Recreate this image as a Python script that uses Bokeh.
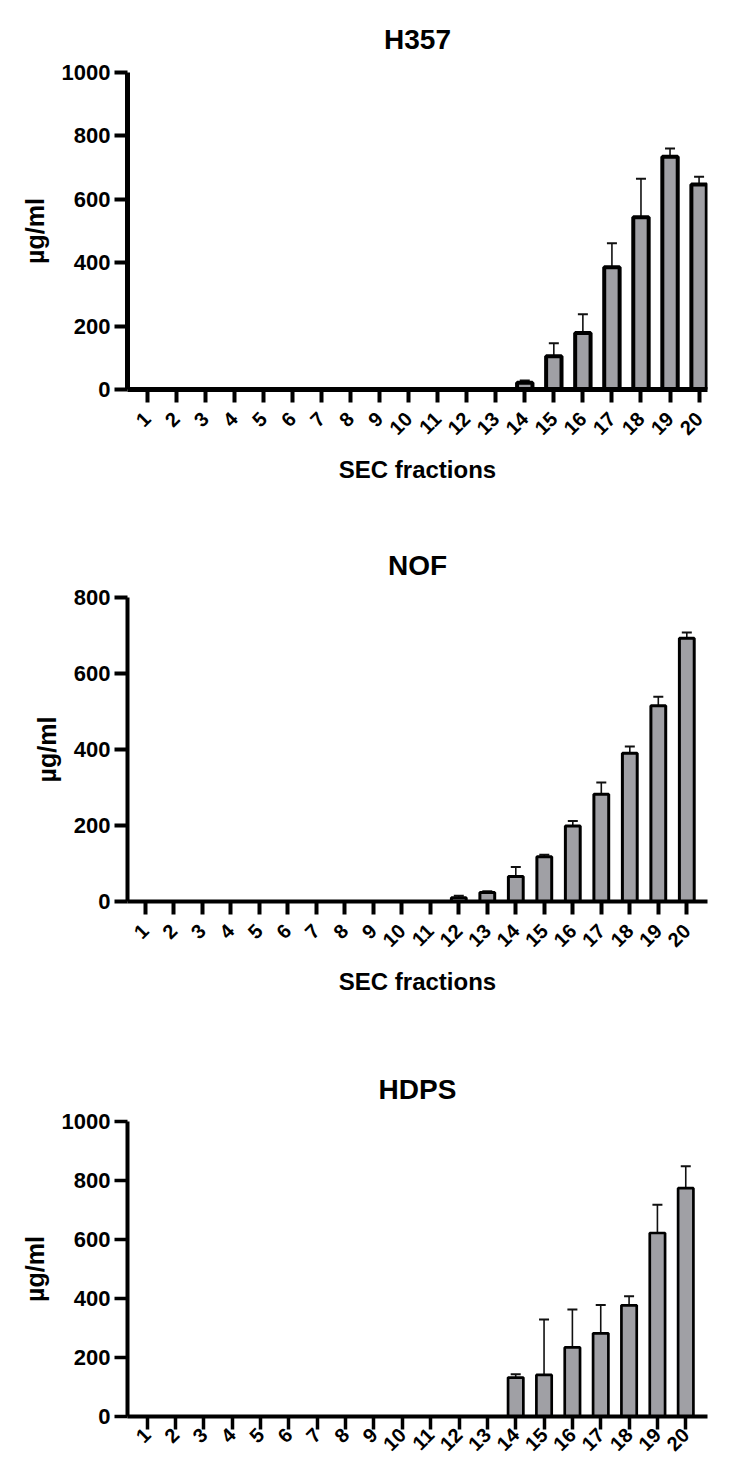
import math
from bokeh.plotting import figure
from bokeh.models import ColumnDataSource, FixedTicker, Range1d
from bokeh.layouts import column
from bokeh.embed import file_html
from bokeh.resources import INLINE

# ---------------- data ----------------
FRACTIONS = [1, 2, 3, 4, 5, 6, 7, 8, 9, 10, 11, 12, 13, 14, 15, 16, 17, 18, 19, 20]
TICK_LABELS = ["1", "2", "3", "4", "5", "6", "7", "8", "9", "10",
               "11", "12", "13", "14", "15", "16", "17", "18", "19", "20"]

H357_MEAN = [0, 0, 0, 0, 0, 0, 0, 0, 0, 0, 0, 0, 0, 21, 105, 178, 386, 543, 734, 647]
H357_ERR = [0, 0, 0, 0, 0, 0, 0, 0, 0, 0, 0, 0, 0, 7, 41, 59, 75, 122, 26, 24]

NOF_MEAN = [0, 0, 0, 0, 0, 0, 0, 0, 0, 0, 0, 10, 24, 66, 118, 199, 282, 390, 515, 693]
NOF_ERR = [0, 0, 0, 0, 0, 0, 0, 0, 0, 0, 0, 5, 3, 25, 5, 13, 31, 18, 24, 15]

HDPS_MEAN = [0, 0, 0, 0, 0, 0, 0, 0, 0, 0, 0, 0, 0, 132, 141, 234, 282, 377, 622, 774]
HDPS_ERR = [0, 0, 0, 0, 0, 0, 0, 0, 0, 0, 0, 0, 0, 11, 188, 129, 96, 31, 96, 74]

H357_YTICKS = [0, 200, 400, 600, 800, 1000]
NOF_YTICKS = [0, 200, 400, 600, 800]
HDPS_YTICKS = [0, 200, 400, 600, 800, 1000]

Y_LABEL = "µg/ml"
X_LABEL = "SEC fractions"

# ---------------- style ----------------
FONT = "Liberation Sans"
FILL = "#a0a0a5"
W = 732


def panel(name, mean, err, yticks, cfg, xlabel):
    p = figure(width=W, height=cfg["h"],
               x_range=Range1d(cfg["x0"], cfg["x1"]),
               y_range=Range1d(0, yticks[-1]),
               output_backend="svg", toolbar_location=None,
               min_border_left=cfg["bl"], min_border_right=cfg["br"],
               min_border_top=cfg["bt"], min_border_bottom=cfg["bb"])
    p.title.text = name
    p.title.align = "center"
    p.title.text_font = FONT
    p.title.text_font_size = "28px"
    p.title.text_font_style = "bold"
    p.title.text_color = "black"
    p.title.standoff = cfg["ts"]
    p.outline_line_color = None
    p.grid.visible = False
    p.background_fill_color = "white"
    p.border_fill_color = "white"

    xs = [x for x, e in zip(FRACTIONS, err) if e > 0]
    lo = [m for m, e in zip(mean, err) if e > 0]
    hi = [m + e for m, e in zip(mean, err) if e > 0]
    p.segment(x0=xs, y0=lo, x1=xs, y1=hi, line_color="#111111", line_width=1.6)
    p.scatter(x=xs, y=hi, marker="dash", size=10, line_width=2, line_color="#111111")

    src = ColumnDataSource(dict(x=FRACTIONS, top=mean))
    p.vbar(x="x", top="top", bottom=0, width=cfg["bw"], fill_color=FILL,
           line_color="black", line_width=cfg["lw"], source=src)

    xa = p.xaxis[0]
    xa.ticker = FixedTicker(ticks=FRACTIONS)
    xa.major_label_overrides = {x: t for x, t in zip(FRACTIONS, TICK_LABELS)}
    xa.major_label_orientation = math.pi / 4
    xa.major_label_text_font = FONT
    xa.major_label_text_font_size = "20px"
    xa.major_label_text_font_style = "bold"
    xa.major_label_text_color = "black"
    xa.major_label_standoff = cfg["xls"]
    xa.major_tick_out = 13
    xa.major_tick_in = 0
    xa.major_tick_line_width = cfg["tw"]
    xa.minor_tick_line_color = None
    xa.axis_line_width = cfg["aw"]
    xa.axis_line_color = "black"
    if xlabel:
        xa.axis_label = X_LABEL
        xa.axis_label_text_font = FONT
        xa.axis_label_text_font_size = "24px"
        xa.axis_label_text_font_style = "bold"
        xa.axis_label_text_color = "black"
        xa.axis_label_standoff = 12

    ya = p.yaxis[0]
    ya.ticker = FixedTicker(ticks=yticks)
    ya.major_label_text_font = FONT
    ya.major_label_text_font_size = "22px"
    ya.major_label_text_font_style = "bold"
    ya.major_label_text_color = "black"
    ya.major_label_standoff = 4
    ya.major_tick_out = 13
    ya.major_tick_in = 0
    ya.major_tick_line_width = cfg["tw"]
    ya.minor_tick_line_color = None
    ya.axis_line_width = cfg["aw"]
    ya.axis_line_color = "black"
    ya.axis_label = Y_LABEL
    ya.axis_label_text_font = FONT
    ya.axis_label_text_font_size = "25px"
    ya.axis_label_text_font_style = "bold"
    ya.axis_label_text_color = "black"
    ya.axis_label_standoff = 10
    return p


CFG_H357 = dict(h=502, bl=110, br=1, bt=72, bb=113, x0=0.325, x1=20.29,
                bw=0.53, lw=4, aw=5, tw=4, ts=36, xls=13)
CFG_NOF = dict(h=520, bl=127, br=2, bt=95, bb=121, x0=0.376, x1=20.726,
               bw=0.52, lw=3, aw=4, tw=4, ts=34, xls=13)
CFG_HDPS = dict(h=441, bl=120, br=25, bt=99, bb=47, x0=0.303, x1=20.767,
                bw=0.54, lw=2.7, aw=4, tw=3.5, ts=33, xls=2)

p1 = panel("H357", H357_MEAN, H357_ERR, H357_YTICKS, CFG_H357, True)
p2 = panel("NOF", NOF_MEAN, NOF_ERR, NOF_YTICKS, CFG_NOF, True)
p3 = panel("HDPS", HDPS_MEAN, HDPS_ERR, HDPS_YTICKS, CFG_HDPS, False)

layout = column(p1, p2, p3, spacing=0)
open("out.html", "w").write(file_html(layout, INLINE))
